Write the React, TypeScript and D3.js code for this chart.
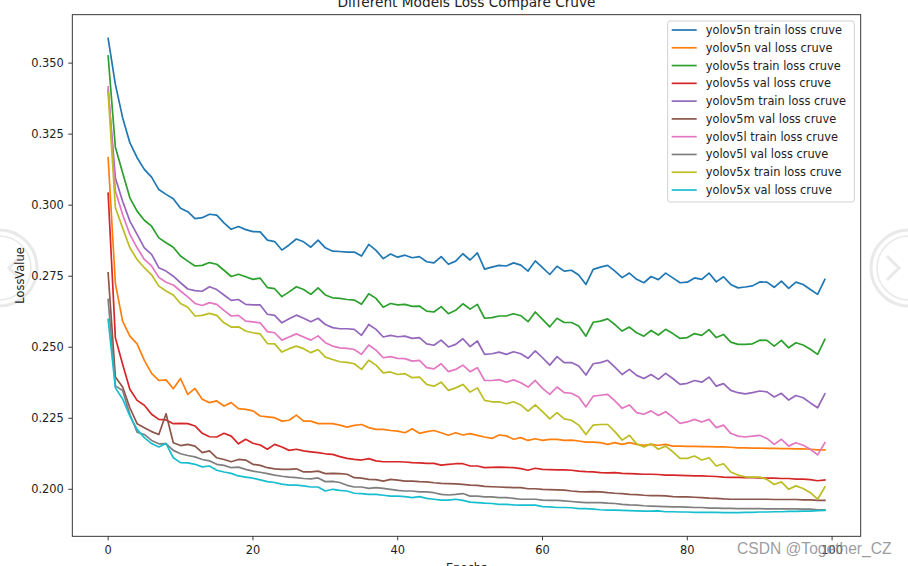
import React from "react";
import * as d3 from "d3";

const title = "Different Models Loss Compare Cruve";
const xLabel = "Epochs";
const yLabel = "LossValue";
const watermark = "CSDN @Together_CZ";

const xTicks = [0, 20, 40, 60, 80, 100];
const yTicks = [0.2, 0.225, 0.25, 0.275, 0.3, 0.325, 0.35];

const seriesNames = [
  "yolov5n train loss cruve",
  "yolov5n val loss cruve",
  "yolov5s train loss cruve",
  "yolov5s val loss cruve",
  "yolov5m train loss cruve",
  "yolov5m val loss cruve",
  "yolov5l train loss cruve",
  "yolov5l val loss cruve",
  "yolov5x train loss cruve",
  "yolov5x val loss cruve",
];
const seriesColors = ["#1f77b4", "#ff7f0e", "#2ca02c", "#d62728", "#9467bd", "#8c564b", "#e377c2", "#7f7f7f", "#bcbd22", "#17becf"];

const v5nTrain = [
  0.3587, 0.3425, 0.3308, 0.3220, 0.3167, 0.3126, 0.3099, 0.3055, 0.3038, 0.3023,
  0.2989, 0.2977, 0.2953, 0.2956, 0.2968, 0.2965, 0.2938, 0.2915, 0.2925, 0.2914,
  0.2907, 0.2906, 0.2877, 0.2872, 0.2842, 0.2860, 0.2881, 0.2871, 0.2852, 0.2877,
  0.2850, 0.2838, 0.2837, 0.2835, 0.2835, 0.2821, 0.2862, 0.2841, 0.2812, 0.2828,
  0.2817, 0.2824, 0.2815, 0.2819, 0.2801, 0.2797, 0.2819, 0.2792, 0.2803, 0.2829,
  0.2807, 0.2832, 0.2775, 0.2782, 0.2788, 0.2786, 0.2797, 0.2789, 0.2768, 0.2804,
  0.2780, 0.2756, 0.2785, 0.2768, 0.2771, 0.2754, 0.2721, 0.2774, 0.2782, 0.2788,
  0.2768, 0.2745, 0.2761, 0.2739, 0.2727, 0.2749, 0.2738, 0.2761, 0.2744, 0.2727,
  0.2729, 0.2744, 0.2739, 0.2761, 0.2730, 0.2748, 0.2721, 0.2709, 0.2712, 0.2716,
  0.2730, 0.2729, 0.2711, 0.2733, 0.2707, 0.2729, 0.2721, 0.2703, 0.2686, 0.2739,
];
const v5nVal = [
  0.3167, 0.2725, 0.2592, 0.2539, 0.2512, 0.2454, 0.2408, 0.2383, 0.2385, 0.2354,
  0.2390, 0.2334, 0.2355, 0.2317, 0.2305, 0.2311, 0.2293, 0.2305, 0.2284, 0.2281,
  0.2276, 0.2258, 0.2255, 0.2252, 0.2240, 0.2243, 0.2261, 0.2240, 0.2240, 0.2231,
  0.2231, 0.2231, 0.2226, 0.2219, 0.2225, 0.2228, 0.2217, 0.2211, 0.2211, 0.2207,
  0.2205, 0.2199, 0.2213, 0.2197, 0.2203, 0.2207, 0.2199, 0.2190, 0.2199, 0.2191,
  0.2196, 0.2190, 0.2184, 0.2179, 0.2191, 0.2188, 0.2176, 0.2182, 0.2172, 0.2178,
  0.2172, 0.2176, 0.2176, 0.2172, 0.2173, 0.2170, 0.2166, 0.2166, 0.2164, 0.2158,
  0.2164, 0.2158, 0.2164, 0.2158, 0.2155, 0.2158, 0.2155, 0.2158, 0.2152, 0.2152,
  0.2151, 0.2151, 0.2150, 0.2150, 0.2149, 0.2149, 0.2148, 0.2146, 0.2146, 0.2145,
  0.2145, 0.2144, 0.2144, 0.2143, 0.2143, 0.2142, 0.2142, 0.2141, 0.2139, 0.2139,
];
const v5sTrain = [
  0.3525, 0.3204, 0.3114, 0.3026, 0.2979, 0.2947, 0.2926, 0.2885, 0.2868, 0.2852,
  0.2821, 0.2803, 0.2786, 0.2788, 0.2798, 0.2792, 0.2771, 0.2749, 0.2757, 0.2748,
  0.2739, 0.2743, 0.2710, 0.2706, 0.2678, 0.2695, 0.2713, 0.2703, 0.2686, 0.2709,
  0.2684, 0.2674, 0.2672, 0.2668, 0.2666, 0.2651, 0.2688, 0.2672, 0.2641, 0.2654,
  0.2649, 0.2651, 0.2644, 0.2645, 0.2627, 0.2624, 0.2643, 0.2618, 0.2630, 0.2653,
  0.2634, 0.2651, 0.2602, 0.2604, 0.2610, 0.2610, 0.2618, 0.2611, 0.2590, 0.2624,
  0.2598, 0.2572, 0.2602, 0.2587, 0.2587, 0.2575, 0.2539, 0.2588, 0.2592, 0.2600,
  0.2580, 0.2557, 0.2571, 0.2551, 0.2539, 0.2559, 0.2543, 0.2563, 0.2548, 0.2531,
  0.2534, 0.2548, 0.2542, 0.2562, 0.2534, 0.2545, 0.2518, 0.2510, 0.2510, 0.2512,
  0.2525, 0.2524, 0.2504, 0.2524, 0.2498, 0.2516, 0.2508, 0.2493, 0.2475, 0.2528,
];
const v5sVal = [
  0.3042, 0.2533, 0.2440, 0.2352, 0.2313, 0.2296, 0.2264, 0.2246, 0.2244, 0.2231,
  0.2232, 0.2231, 0.2223, 0.2197, 0.2185, 0.2184, 0.2197, 0.2187, 0.2160, 0.2176,
  0.2162, 0.2156, 0.2141, 0.2158, 0.2149, 0.2137, 0.2141, 0.2135, 0.2132, 0.2129,
  0.2125, 0.2123, 0.2115, 0.2109, 0.2105, 0.2103, 0.2108, 0.2100, 0.2097, 0.2097,
  0.2097, 0.2096, 0.2094, 0.2093, 0.2091, 0.2091, 0.2085, 0.2088, 0.2090, 0.2090,
  0.2082, 0.2082, 0.2076, 0.2077, 0.2078, 0.2077, 0.2076, 0.2073, 0.2067, 0.2074,
  0.2070, 0.2069, 0.2068, 0.2068, 0.2067, 0.2064, 0.2062, 0.2061, 0.2059, 0.2058,
  0.2059, 0.2056, 0.2055, 0.2054, 0.2053, 0.2053, 0.2052, 0.2050, 0.2050, 0.2049,
  0.2048, 0.2047, 0.2047, 0.2046, 0.2045, 0.2043, 0.2042, 0.2042, 0.2041, 0.2041,
  0.2040, 0.2039, 0.2039, 0.2038, 0.2038, 0.2036, 0.2036, 0.2034, 0.2030, 0.2033,
];
const v5mTrain = [
  0.3405, 0.3096, 0.3014, 0.2944, 0.2897, 0.2850, 0.2827, 0.2780, 0.2768, 0.2750,
  0.2727, 0.2705, 0.2699, 0.2697, 0.2713, 0.2703, 0.2684, 0.2665, 0.2668, 0.2651,
  0.2649, 0.2649, 0.2616, 0.2612, 0.2586, 0.2600, 0.2613, 0.2602, 0.2590, 0.2602,
  0.2580, 0.2569, 0.2565, 0.2565, 0.2563, 0.2542, 0.2580, 0.2563, 0.2536, 0.2542,
  0.2537, 0.2539, 0.2531, 0.2534, 0.2512, 0.2507, 0.2525, 0.2501, 0.2510, 0.2530,
  0.2502, 0.2522, 0.2475, 0.2477, 0.2483, 0.2475, 0.2484, 0.2477, 0.2461, 0.2487,
  0.2463, 0.2437, 0.2467, 0.2446, 0.2446, 0.2434, 0.2402, 0.2442, 0.2446, 0.2454,
  0.2430, 0.2404, 0.2422, 0.2401, 0.2390, 0.2404, 0.2387, 0.2408, 0.2390, 0.2369,
  0.2373, 0.2383, 0.2377, 0.2395, 0.2363, 0.2372, 0.2348, 0.2340, 0.2336, 0.2340,
  0.2346, 0.2343, 0.2325, 0.2338, 0.2314, 0.2330, 0.2322, 0.2304, 0.2287, 0.2336,
];
const v5mVal = [
  0.2762, 0.2395, 0.2360, 0.2287, 0.2231, 0.2217, 0.2203, 0.2193, 0.2266, 0.2164,
  0.2154, 0.2158, 0.2152, 0.2129, 0.2135, 0.2111, 0.2105, 0.2097, 0.2105, 0.2103,
  0.2088, 0.2084, 0.2076, 0.2072, 0.2070, 0.2070, 0.2072, 0.2061, 0.2061, 0.2064,
  0.2055, 0.2056, 0.2055, 0.2053, 0.2041, 0.2039, 0.2035, 0.2034, 0.2029, 0.2035,
  0.2032, 0.2029, 0.2029, 0.2027, 0.2026, 0.2023, 0.2021, 0.2020, 0.2019, 0.2017,
  0.2015, 0.2014, 0.2010, 0.2009, 0.2008, 0.2007, 0.2006, 0.2006, 0.2002, 0.2002,
  0.2000, 0.1999, 0.1998, 0.1997, 0.1994, 0.1992, 0.1991, 0.1992, 0.1991, 0.1988,
  0.1986, 0.1985, 0.1982, 0.1981, 0.1979, 0.1978, 0.1978, 0.1977, 0.1974, 0.1973,
  0.1973, 0.1972, 0.1971, 0.1969, 0.1968, 0.1966, 0.1965, 0.1965, 0.1965, 0.1965,
  0.1965, 0.1965, 0.1964, 0.1964, 0.1964, 0.1964, 0.1963, 0.1963, 0.1961, 0.1961,
];
const v5lTrain = [
  0.3416, 0.3050, 0.2967, 0.2897, 0.2850, 0.2809, 0.2786, 0.2746, 0.2729, 0.2719,
  0.2698, 0.2677, 0.2654, 0.2647, 0.2657, 0.2651, 0.2630, 0.2610, 0.2612, 0.2592,
  0.2589, 0.2586, 0.2555, 0.2551, 0.2525, 0.2536, 0.2547, 0.2536, 0.2525, 0.2540,
  0.2516, 0.2504, 0.2498, 0.2496, 0.2492, 0.2475, 0.2508, 0.2490, 0.2463, 0.2467,
  0.2461, 0.2460, 0.2451, 0.2454, 0.2428, 0.2424, 0.2442, 0.2414, 0.2422, 0.2437,
  0.2414, 0.2428, 0.2383, 0.2383, 0.2386, 0.2377, 0.2385, 0.2375, 0.2360, 0.2383,
  0.2355, 0.2334, 0.2360, 0.2340, 0.2338, 0.2325, 0.2290, 0.2328, 0.2331, 0.2334,
  0.2311, 0.2285, 0.2297, 0.2270, 0.2264, 0.2276, 0.2260, 0.2273, 0.2254, 0.2232,
  0.2237, 0.2246, 0.2237, 0.2246, 0.2217, 0.2226, 0.2197, 0.2187, 0.2184, 0.2187,
  0.2190, 0.2179, 0.2158, 0.2176, 0.2152, 0.2164, 0.2155, 0.2141, 0.2121, 0.2164,
];
const v5lVal = [
  0.2668, 0.2364, 0.2348, 0.2264, 0.2201, 0.2193, 0.2172, 0.2160, 0.2161, 0.2137,
  0.2125, 0.2119, 0.2114, 0.2105, 0.2100, 0.2088, 0.2084, 0.2076, 0.2078, 0.2070,
  0.2064, 0.2060, 0.2055, 0.2050, 0.2046, 0.2043, 0.2041, 0.2038, 0.2037, 0.2040,
  0.2027, 0.2028, 0.2024, 0.2014, 0.2008, 0.2008, 0.2003, 0.2006, 0.2003, 0.2000,
  0.1996, 0.1994, 0.1994, 0.1991, 0.1991, 0.1988, 0.1982, 0.1980, 0.1982, 0.1985,
  0.1976, 0.1976, 0.1973, 0.1973, 0.1971, 0.1971, 0.1968, 0.1965, 0.1965, 0.1965,
  0.1962, 0.1961, 0.1961, 0.1959, 0.1957, 0.1955, 0.1953, 0.1953, 0.1953, 0.1951,
  0.1950, 0.1947, 0.1945, 0.1944, 0.1942, 0.1941, 0.1940, 0.1939, 0.1938, 0.1938,
  0.1937, 0.1936, 0.1936, 0.1934, 0.1934, 0.1933, 0.1933, 0.1932, 0.1932, 0.1932,
  0.1932, 0.1931, 0.1931, 0.1931, 0.1931, 0.1931, 0.1930, 0.1930, 0.1928, 0.1928,
];
const v5xTrain = [
  0.3396, 0.2991, 0.2920, 0.2850, 0.2809, 0.2780, 0.2755, 0.2715, 0.2698, 0.2684,
  0.2654, 0.2641, 0.2610, 0.2612, 0.2619, 0.2612, 0.2586, 0.2571, 0.2572, 0.2557,
  0.2551, 0.2547, 0.2513, 0.2512, 0.2483, 0.2495, 0.2504, 0.2495, 0.2481, 0.2492,
  0.2465, 0.2457, 0.2449, 0.2447, 0.2442, 0.2422, 0.2454, 0.2437, 0.2410, 0.2413,
  0.2404, 0.2407, 0.2393, 0.2395, 0.2369, 0.2363, 0.2377, 0.2348, 0.2357, 0.2369,
  0.2342, 0.2357, 0.2313, 0.2308, 0.2308, 0.2301, 0.2308, 0.2297, 0.2275, 0.2297,
  0.2273, 0.2248, 0.2270, 0.2248, 0.2243, 0.2226, 0.2193, 0.2226, 0.2228, 0.2228,
  0.2203, 0.2173, 0.2190, 0.2160, 0.2149, 0.2160, 0.2141, 0.2152, 0.2132, 0.2109,
  0.2109, 0.2117, 0.2103, 0.2111, 0.2082, 0.2090, 0.2061, 0.2050, 0.2044, 0.2043,
  0.2043, 0.2035, 0.2017, 0.2026, 0.2000, 0.2012, 0.2003, 0.1988, 0.1965, 0.2008,
];
const v5xVal = [
  0.2598, 0.2357, 0.2318, 0.2258, 0.2211, 0.2182, 0.2161, 0.2149, 0.2161, 0.2111,
  0.2094, 0.2093, 0.2088, 0.2079, 0.2082, 0.2067, 0.2061, 0.2056, 0.2047, 0.2043,
  0.2039, 0.2033, 0.2027, 0.2024, 0.2018, 0.2015, 0.2015, 0.2012, 0.2008, 0.2008,
  0.1994, 0.2000, 0.1996, 0.1994, 0.1986, 0.1985, 0.1982, 0.1982, 0.1979, 0.1976,
  0.1976, 0.1974, 0.1971, 0.1974, 0.1968, 0.1965, 0.1962, 0.1962, 0.1965, 0.1961,
  0.1955, 0.1953, 0.1951, 0.1950, 0.1947, 0.1947, 0.1945, 0.1944, 0.1944, 0.1944,
  0.1939, 0.1938, 0.1936, 0.1936, 0.1935, 0.1932, 0.1932, 0.1930, 0.1928, 0.1927,
  0.1927, 0.1926, 0.1925, 0.1924, 0.1923, 0.1923, 0.1924, 0.1921, 0.1921, 0.1920,
  0.1920, 0.1919, 0.1919, 0.1919, 0.1919, 0.1918, 0.1918, 0.1918, 0.1919, 0.1919,
  0.1920, 0.1920, 0.1921, 0.1921, 0.1922, 0.1922, 0.1923, 0.1923, 0.1925, 0.1926,
];

const seriesValues = [v5nTrain, v5nVal, v5sTrain, v5sVal, v5mTrain, v5mVal, v5lTrain, v5lVal, v5xTrain, v5xVal];

const W = 908;
const H = 566;
const AX = { left: 72.3, right: 860.7, top: 14.7, bottom: 536.3 };
const FONT = "DejaVu Sans, Verdana, sans-serif";
const FS = 11.4;

export default function App() {
  const n = v5nTrain.length;
  const xMin = 0, xMax = n - 1;
  const xPad = (xMax - xMin) * 0.05;
  const all = seriesValues.flat();
  const yMin = d3.min(all) as number;
  const yMax = d3.max(all) as number;
  const yPad = (yMax - yMin) * 0.05;

  const x = d3.scaleLinear().domain([xMin - xPad, xMax + xPad]).range([AX.left, AX.right]);
  const y = d3.scaleLinear().domain([yMin - yPad, yMax + yPad]).range([AX.bottom, AX.top]);

  const line = d3
    .line<number>()
    .x((_, i) => x(i))
    .y((d) => y(d));

  const cx = (AX.left + AX.right) / 2;
  const cy = (AX.top + AX.bottom) / 2;

  const legX = 667.7, legY = 21, legW = 186.6, legH = 181;
  const legRow0 = 30, legStep = 17.78;

  return (
    <svg
      width={W}
      height={H}
      viewBox={`0 0 ${W} ${H}`}
      style={{ position: "absolute", left: 0, top: 0, background: "#fff" }}
      fontFamily={FONT}
    >
      <rect x={0} y={0} width={W} height={H} fill="#fff" />
      {/* faint circular watermark icons */}
      {[{ c: -1, dir: -1 }, { c: 909, dir: 1 }].map((o, i) => (
        <g key={i} fill="none" stroke="#e9e9e9">
          <circle cx={o.c} cy={268} r={38} strokeWidth={3} />
          <circle cx={o.c} cy={268} r={32} strokeWidth={1.5} />
          <path
            d={`M${o.c - o.dir * 22},${256} L${o.c - o.dir * 10},${268} L${o.c - o.dir * 22},${280}`}
            strokeWidth={3}
          />
        </g>
      ))}

      <defs>
        <clipPath id="plotClip">
          <rect x={AX.left} y={AX.top} width={AX.right - AX.left} height={AX.bottom - AX.top} />
        </clipPath>
      </defs>

      <g clipPath="url(#plotClip)">
        {seriesValues.map((vals, i) => (
          <path
            key={seriesNames[i]}
            d={line(vals) as string}
            fill="none"
            stroke={seriesColors[i]}
            strokeWidth={1.7}
            strokeLinejoin="round"
            strokeLinecap="square"
          />
        ))}
      </g>

      {/* spines */}
      <rect
        x={AX.left}
        y={AX.top}
        width={AX.right - AX.left}
        height={AX.bottom - AX.top}
        fill="none"
        stroke="#222"
        strokeWidth={0.9}
      />

      {/* x ticks */}
      {xTicks.map((t) => (
        <g key={"x" + t}>
          <line x1={x(t)} x2={x(t)} y1={AX.bottom} y2={AX.bottom + 4} stroke="#222" strokeWidth={0.9} />
          <text x={x(t)} y={553.7} fontSize={FS} textAnchor="middle" fill="#222">
            {t}
          </text>
        </g>
      ))}
      {/* y ticks */}
      {yTicks.map((t) => (
        <g key={"y" + t}>
          <line x1={AX.left - 4} x2={AX.left} y1={y(t)} y2={y(t)} stroke="#222" strokeWidth={0.9} />
          <text x={AX.left - 8.5} y={y(t)} dy="0.35em" fontSize={FS} textAnchor="end" fill="#222">
            {t.toFixed(3)}
          </text>
        </g>
      ))}

      {/* title and axis labels */}
      <text x={cx} y={7.3} fontSize={13.7} textAnchor="middle" fill="#222">
        {title}
      </text>
      <text x={cx} y={572} fontSize={FS} textAnchor="middle" fill="#222">
        {xLabel}
      </text>
      <text
        transform={`translate(24,${cy}) rotate(-90)`}
        fontSize={FS}
        textAnchor="middle"
        fill="#222"
      >
        {yLabel}
      </text>

      {/* legend */}
      <rect
        x={legX}
        y={legY}
        width={legW}
        height={legH}
        rx={2.5}
        fill="#fff"
        fillOpacity={0.8}
        stroke="#cccccc"
        strokeWidth={0.9}
      />
      {seriesNames.map((name, i) => {
        const ly = legRow0 + i * legStep;
        return (
          <g key={"leg" + i}>
            <line x1={671.7} x2={696.7} y1={ly} y2={ly} stroke={seriesColors[i]} strokeWidth={1.7} />
            <text x={705.7} y={ly} dy="0.35em" fontSize={FS} fill="#222">
              {name}
            </text>
          </g>
        );
      })}

      {/* watermark */}
      <text
        x={737}
        y={554}
        fontSize={15.6}
        fontFamily="Liberation Sans, Arial, sans-serif"
        fill="#8a8a8a"
        fillOpacity={0.85}
      >
        {watermark}
      </text>
    </svg>
  );
}
